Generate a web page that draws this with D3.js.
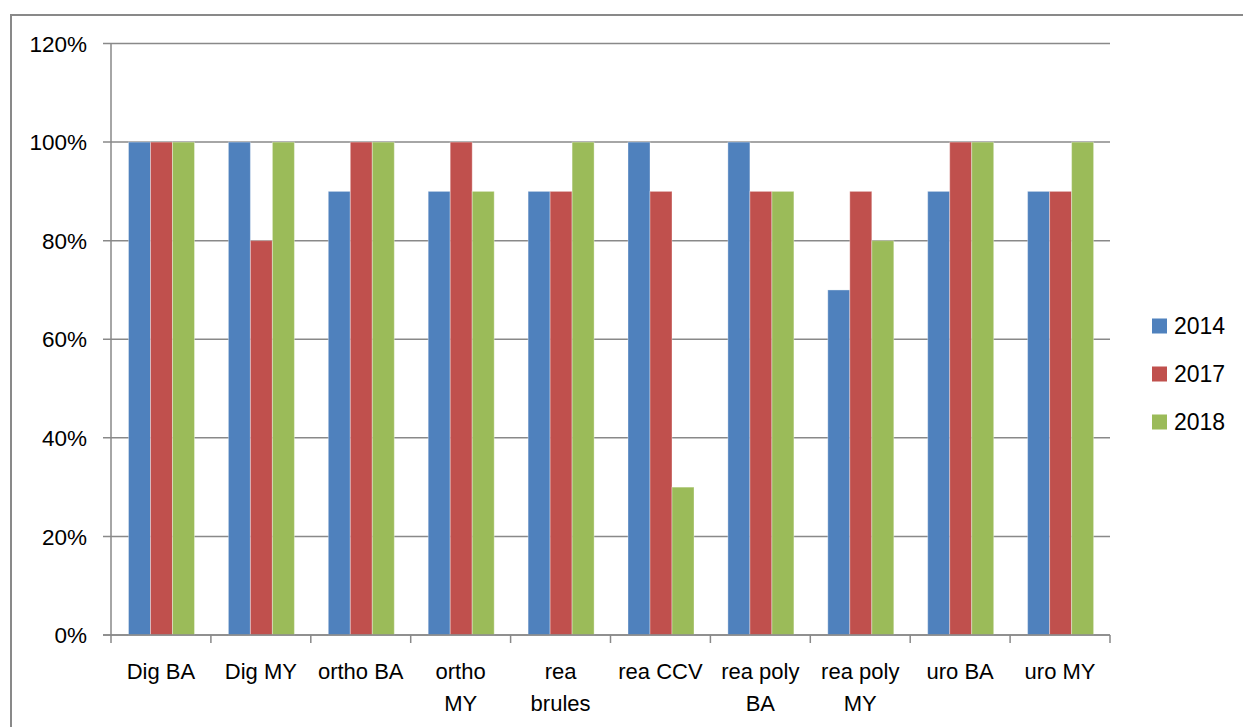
<!DOCTYPE html>
<html><head><meta charset="utf-8">
<script src="https://cdn.jsdelivr.net/npm/d3@7"></script>
<style>body{margin:0;background:#fff}svg{display:block}text{font-family:"Liberation Sans",Arial,sans-serif;fill:#000}</style>
</head><body><svg id="c" width="1243" height="727"></svg>
<script>
const categories = ["Dig BA","Dig MY","ortho BA","ortho MY","rea brules","rea CCV","rea poly BA","rea poly MY","uro BA","uro MY"];
const categoryLines = [["Dig BA"],["Dig MY"],["ortho BA"],["ortho","MY"],["rea","brules"],["rea CCV"],["rea poly","BA"],["rea poly","MY"],["uro BA"],["uro MY"]];
const seriesNames = ["2014","2017","2018"];
const v2014 = [1.0,1.0,0.9,0.9,0.9,1.0,1.0,0.7,0.9,0.9];
const v2017 = [1.0,0.8,1.0,1.0,0.9,0.9,0.9,0.9,1.0,0.9];
const v2018 = [1.0,1.0,1.0,0.9,1.0,0.3,0.9,0.8,1.0,1.0];
const yTicks = [0,0.2,0.4,0.6,0.8,1.0,1.2];
const colors = ["#4F81BD","#C0504D","#9BBB59"];
const series = [v2014,v2017,v2018];

const svg = d3.select("#c");
// outer border
svg.append("path").attr("d","M11,727 L11,15 L1243,15").attr("fill","none").attr("stroke","#898989").attr("stroke-width",2);

const x0 = d3.scaleBand().domain(categories).range([111,1110]).padding(0);
const x1 = d3.scaleBand().domain(seriesNames).range([17.5,83.5]).padding(0);
const y = d3.scaleLinear().domain([0,1.2]).range([635,43.5]);

// gridlines
svg.append("g").selectAll("line").data(yTicks).join("line")
  .attr("x1",103).attr("x2",1110).attr("y1",d=>y(d)).attr("y2",d=>y(d))
  .attr("stroke","#898989").attr("stroke-width",1.5);
// y labels
svg.append("g").selectAll("text").data(yTicks).join("text")
  .attr("x",87).attr("y",d=>y(d)).attr("dy","0.36em").attr("text-anchor","end")
  .style("font-size","22.5px").text(d=>d3.format(".0%")(d));

// bars
const g = svg.append("g");
categories.forEach((c,i)=>{
  seriesNames.forEach((s,j)=>{
    g.append("rect")
      .attr("x",x0(c)+x1(s)).attr("width",x1.bandwidth())
      .attr("y",y(series[j][i])).attr("height",y(0)-y(series[j][i]))
      .attr("fill",colors[j]).attr("stroke","rgba(255,255,255,0.35)").attr("stroke-width",1);
  });
});

// axes lines
svg.append("line").attr("x1",111).attr("x2",111).attr("y1",y(1.2)).attr("y2",y(0)).attr("stroke","#898989").attr("stroke-width",1.5);
svg.append("line").attr("x1",103).attr("x2",1110).attr("y1",y(0)).attr("y2",y(0)).attr("stroke","#898989").attr("stroke-width",1.5);
const ticksX = categories.map(c=>x0(c)).concat([1110]);
svg.append("g").selectAll("line").data(ticksX).join("line")
  .attr("x1",d=>d).attr("x2",d=>d).attr("y1",y(0)).attr("y2",y(0)+8)
  .attr("stroke","#898989").attr("stroke-width",1.5);

// x labels
categories.forEach((c,i)=>{
  const t = svg.append("text").attr("text-anchor","middle").style("font-size","22px");
  categoryLines[i].forEach((ln,k)=>{
    t.append("tspan").attr("x",x0(c)+x0.bandwidth()/2).attr("y",679+k*32).text(ln);
  });
});

// legend
const lg = svg.append("g");
seriesNames.forEach((s,j)=>{
  const cy = 326 + j*48;
  lg.append("rect").attr("x",1152).attr("y",cy-7.5).attr("width",15).attr("height",15).attr("fill",colors[j]);
  lg.append("text").attr("x",1174).attr("y",cy).attr("dy","0.36em").style("font-size","23px").text(s);
});
</script></body></html>
